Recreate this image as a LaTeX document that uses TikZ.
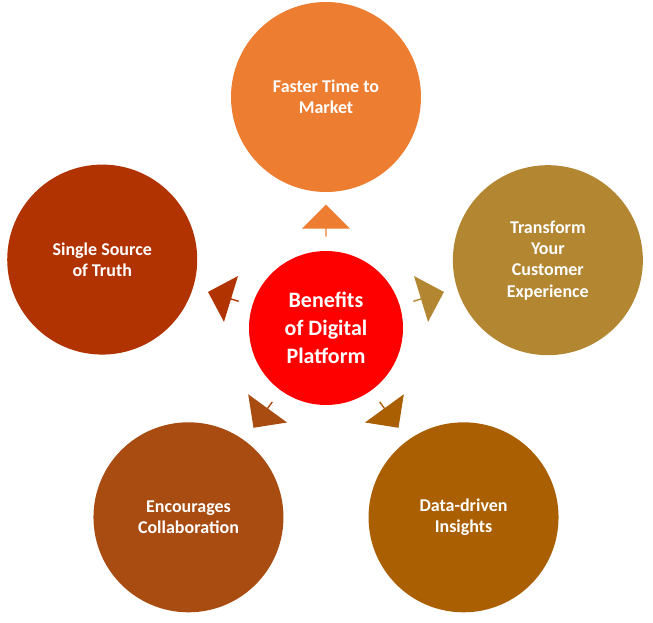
\documentclass[tikz,border=0pt]{standalone}
\usepackage{fontspec}
\setmainfont{Carlito}
\usetikzlibrary{shapes.arrows,calc}
\definecolor{cTop}{HTML}{ED7D31}
\definecolor{cRight}{HTML}{B38632}
\definecolor{cBR}{HTML}{A95F02}
\definecolor{cBL}{HTML}{A84C12}
\definecolor{cLeft}{HTML}{B23302}
\tikzset{
  outer/.style={circle,minimum size=190*0.75pt,inner sep=0pt,text=white,font=\bfseries\fontsize{13.5}{16}\selectfont,align=center},
  blk/.style={single arrow,minimum height=32*0.75pt,minimum width=48*0.75pt,single arrow head extend=9*0.75pt,inner sep=0pt,draw=none}
}
\begin{document}
\begin{tikzpicture}[x=0.75pt,y=0.75pt]
\useasboundingbox (0,0) rectangle (653,622);
\coordinate (o) at (326,294);
\node[circle,fill=red,minimum size=154*0.75pt,inner sep=0pt,text=white,font=\bfseries\fontsize{16.5}{21}\selectfont,align=center] (c) at (o) {Benefits\\of Digital\\Platform};
\node[outer,fill=cTop] (t) at ($(o)+(90:231)$) {Faster Time to\\Market};
\node[outer,fill=cRight] (r) at ($(o)+(17:232)$) {Transform\\Your\\Customer\\Experience};
\node[outer,fill=cBR] (br) at ($(o)+(-54:234)$) {Data-driven\\Insights};
\node[outer,fill=cBL] (bl) at ($(o)+(-126:234)$) {Encourages\\Collaboration};
\node[outer,fill=cLeft] (l) at ($(o)+(163:234)$) {Single Source\\of Truth};
\node[blk,fill=cTop,rotate=90] (at) at ($(o)+(90:107)$) {};
\node[blk,fill=cRight,rotate=17] (ar) at ($(o)+(17:107)$) {};
\node[blk,fill=cBR,rotate=-54] (abr) at ($(o)+(-54:107)$) {};
\node[blk,fill=cBL,rotate=-126] (abl) at ($(o)+(-126:107)$) {};
\node[blk,fill=cLeft,rotate=163] (al) at ($(o)+(163:107)$) {};
\end{tikzpicture}
\end{document}
